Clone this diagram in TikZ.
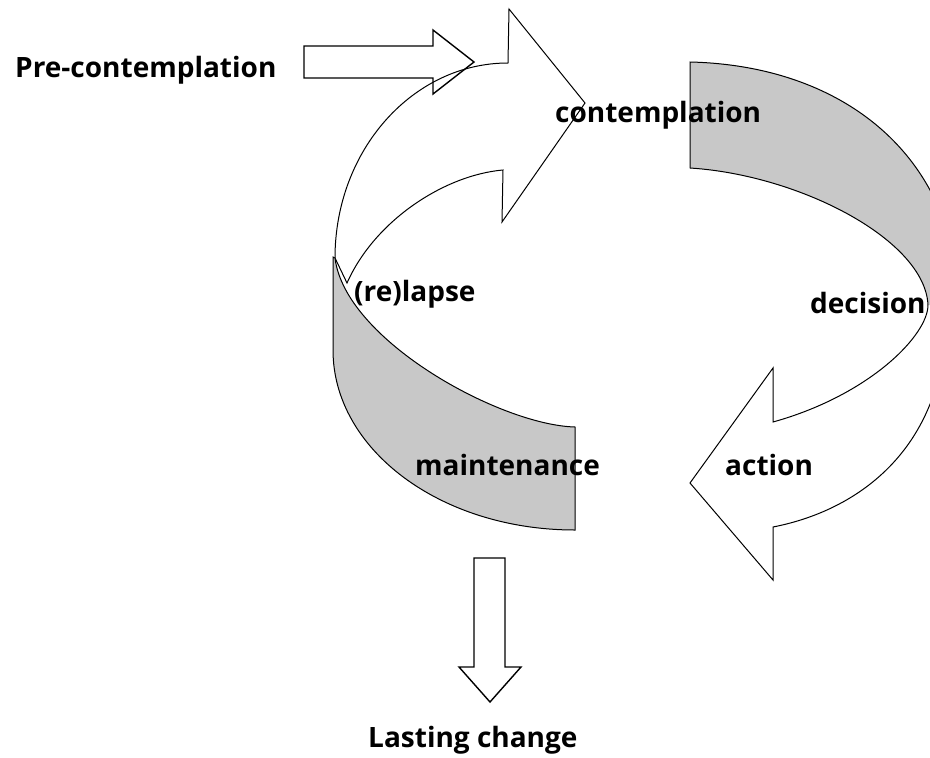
\documentclass[tikz,border=0pt]{standalone}
\usepackage{fontspec}
\setmainfont{Open Sans}
\definecolor{bandgray}{RGB}{200,200,200}
\begin{document}
\begin{tikzpicture}[x=1pt,y=-1pt,
  lbl/.style={anchor=base west, inner sep=0pt, font=\fontsize{28}{34}\selectfont\bfseries},
  blk/.style={draw=black, line width=1.4pt, line join=miter},
  outl/.style={draw=black, line width=1pt, line join=miter},
]
\useasboundingbox (0,0) rectangle (930,758);
\fill[white] (0,0) rectangle (930,758);
\clip (0,0) rectangle (930,758);

% contemplation arrow (white)
\path[fill=white, outl] (503,170) .. controls (445,175) and (375,220) .. (347,283)
  -- (335,258) .. controls (335,150) and (413,63) .. (508,63)
  -- (509,9) -- (585,103) -- (502,222) -- cycle;

% maintenance band (gray)
\path[fill=bandgray, outl] (333,257) -- (333,350) .. controls (333,449) and (440,530) .. (575,530)
  -- (575,427) .. controls (500,425) and (345,340) .. (335,258) -- cycle;

% action arrow (white)
\fill[white] (928,305) .. controls (928,335) and (870,395) .. (773,422) -- (773,368) -- (690,483)
  -- (773,580) -- (773,527) .. controls (860,510) and (935,450) .. (945,340) -- (970,340) -- (970,300) -- cycle;
\draw[outl] (928,305) .. controls (928,335) and (870,395) .. (773,422) -- (773,368) -- (690,483)
  -- (773,580) -- (773,527) .. controls (860,510) and (935,450) .. (945,340);

% decision band (gray)
\fill[bandgray] (690,62) .. controls (820,65) and (920,130) .. (950,240) -- (960,305) -- (928,305)
  .. controls (925,240) and (800,175) .. (690,168) -- cycle;
\draw[outl] (690,168) -- (690,62) .. controls (820,65) and (920,130) .. (950,240);
\draw[outl] (690,168) .. controls (800,175) and (925,240) .. (928,305);

% straight block arrows
\draw[blk] (304,46) -- (433,46) -- (433,30) -- (474,62) -- (433,94) -- (433,78) -- (304,78) -- cycle;
\draw[blk] (474,558) -- (505,558) -- (505,667) -- (521,667) -- (490,702) -- (459,667) -- (474,667) -- cycle;

% labels
\node[lbl] (pre) at (15,77) {Pre-contemplation};
\node[lbl] (con) at (555,122) {contemplation};
\node[lbl] (dec) at (810,313) {decision};
\node[lbl] (rel) at (354,301) {(re)lapse};
\node[lbl] (mai) at (415,475) {maintenance};
\node[lbl] (act) at (725,475) {action};
\node[lbl] (las) at (368,747) {Lasting change};
\end{tikzpicture}
\end{document}
